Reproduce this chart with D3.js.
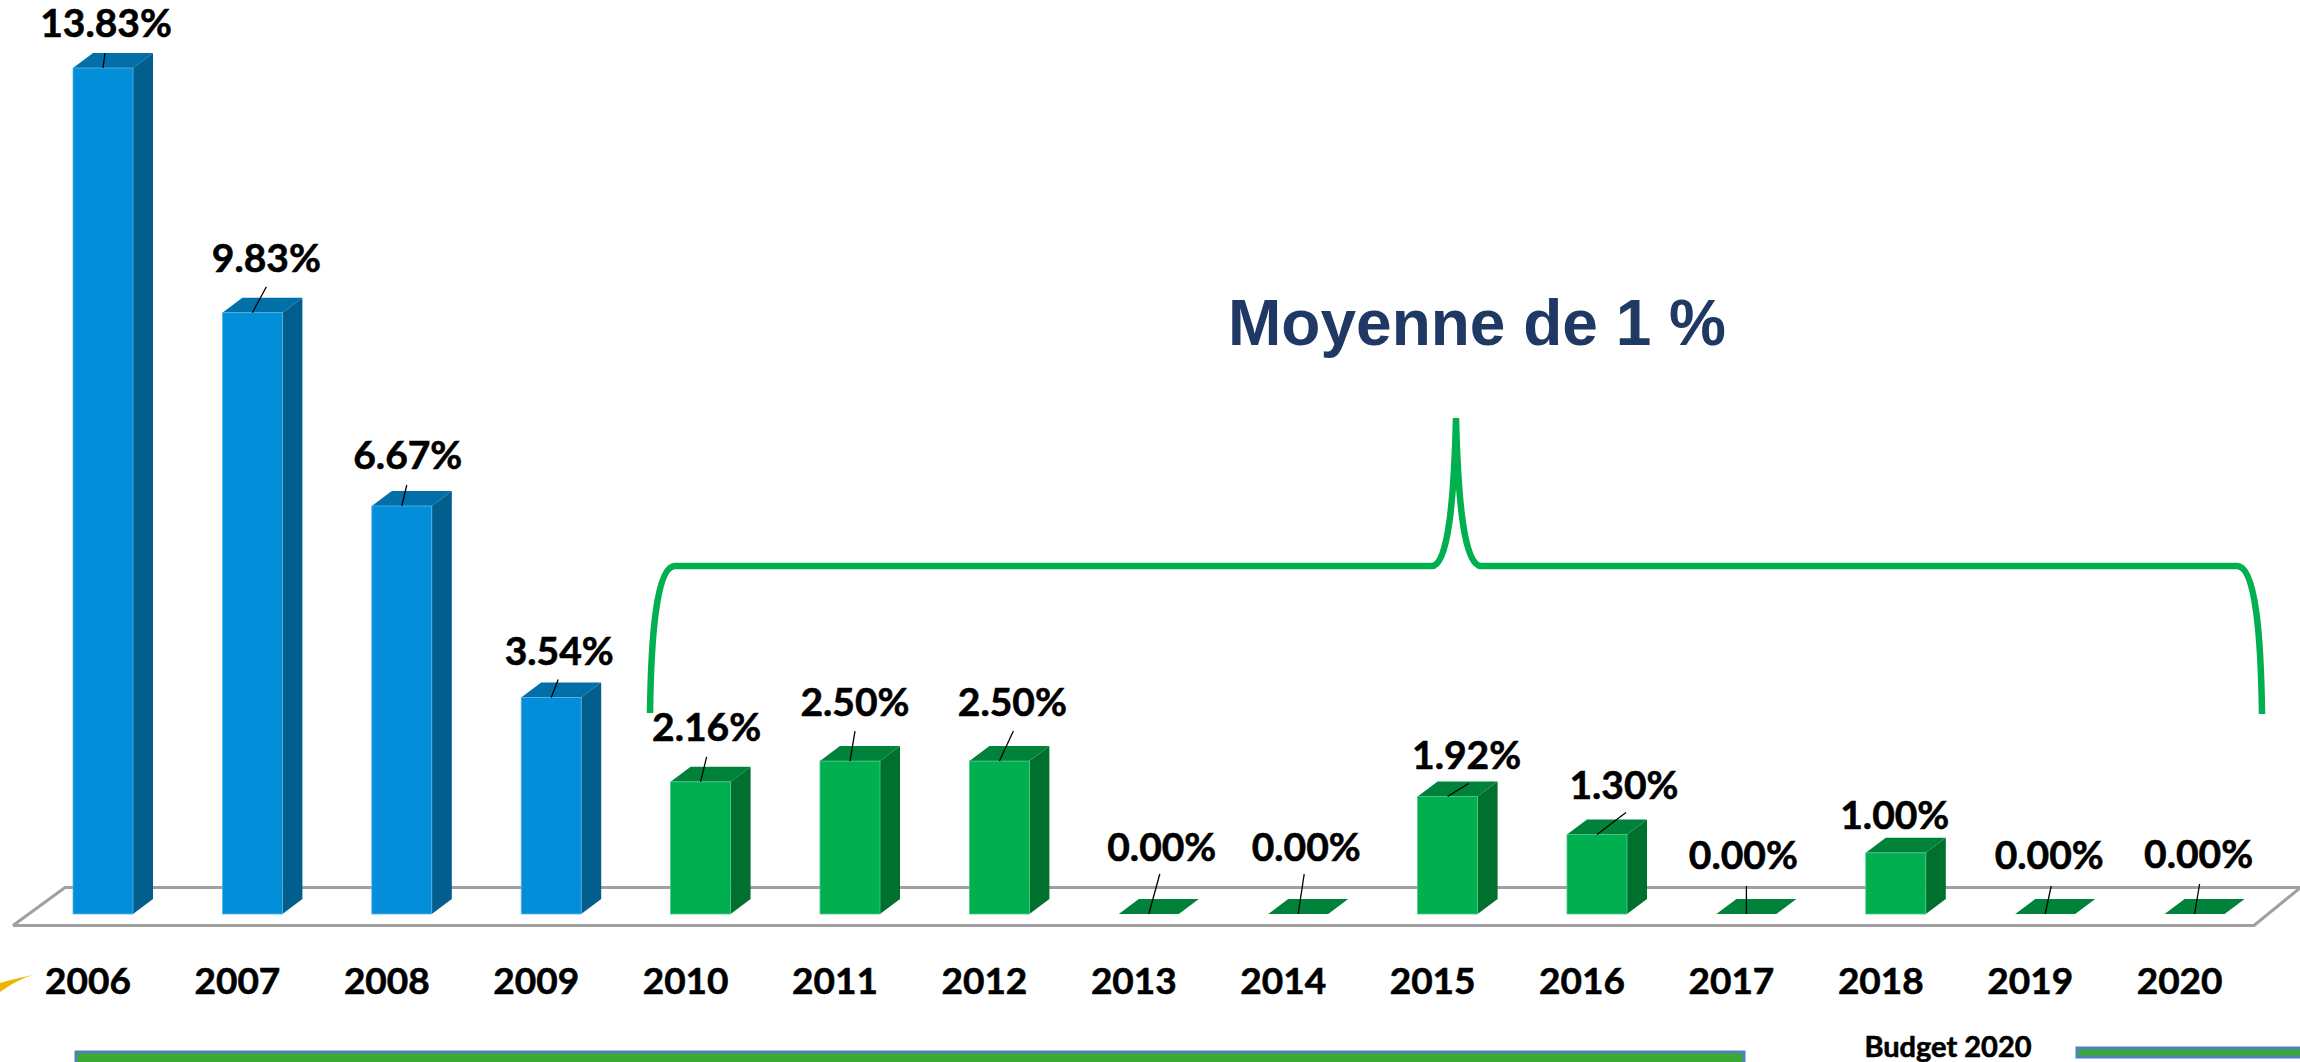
<!DOCTYPE html>
<html>
<head>
<meta charset="utf-8">
<script src="https://cdn.jsdelivr.net/npm/d3@7"></script>
<style>
  html, body { margin: 0; padding: 0; background: #fff; overflow: hidden; }
  svg { display: block; }
  .val, .tick text, .budget { font-family: Lato, sans-serif; font-weight: 700; fill: #000; stroke: #000; stroke-width: 0.6; }
</style>
</head>
<body>
<script>
// values
const years = ["2006", "2007", "2008", "2009", "2010", "2011", "2012", "2013", "2014", "2015", "2016", "2017", "2018", "2019", "2020"];
const rates = [13.83, 9.83, 6.67, 3.54, 2.16, 2.50, 2.50, 0, 0, 1.92, 1.30, 0, 1.00, 0, 0];
const lastBlueYear = "2009";

// hand placed data labels, relative to the middle of the bar's top edge
const labelDx = [3, 14, 6, 8, 6, 5, 13, 13, 8, 19, 27, -3, -1, 4, 4];
const labelDy = [-31, -41, -37, -32, -41, -45, -45, -53, -53, -28, -35, -45, -24, -45, -46];
const leaderDx = [2, 14, 5, 7, 6, 5, 14, 11, 6, 21, 29, 0, 0, 6, 5];
const leaderDy = [-15, -26, -21, -18, -25, -30, -30, -40, -40, -13, -22, -28, 0, -28, -30];

const width = 2300, height = 1062;
const baseY = 914, depthX = 20, depthY = 15;

const svg = d3.select("body").append("svg")
  .attr("width", width)
  .attr("height", height);

const x = d3.scaleBand()
  .domain(years)
  .range([73, 73 + 14 * 149.4 + 60])
  .paddingInner(1 - 60 / 149.4)
  .paddingOuter(0);

const y = d3.scaleLinear()
  .domain([0, 13.83])
  .range([baseY, 68]);

const colors = {
  blue: { front: "#038ed9", top: "#026fa8", side: "#025e8c", edge: "#5db5e6" },
  green: { front: "#00b050", top: "#00823b", side: "#00702f", edge: "#4cc884" }
};

// floor of the 3d plot
svg.append("path")
  .attr("d", "M13,925.5 L65,887.5 L2300,887.5 M2300,888 L2254,925.5 L13,925.5")
  .attr("fill", "none")
  .attr("stroke", "#a0a0a0")
  .attr("stroke-width", 3);

const data = years.map((year, i) => ({ year, rate: rates[i], i, palette: i <= years.indexOf(lastBlueYear) ? colors.blue : colors.green }));

const bars = svg.selectAll(".bar")
  .data(data)
  .enter().append("g")
  .attr("class", "bar");

bars.filter(d => d.rate > 0).append("path")
  .attr("fill", d => d.palette.side)
  .attr("d", d => {
    const r = x(d.year) + x.bandwidth(), t = y(d.rate);
    return `M${r},${t} L${r + depthX},${t - depthY} L${r + depthX},${baseY - depthY} L${r},${baseY} Z`;
  });

bars.append("path")
  .attr("fill", d => d.palette.top)
  .attr("d", d => {
    const l = x(d.year), r = l + x.bandwidth(), t = y(d.rate);
    return `M${l},${t} L${l + depthX},${t - depthY} L${r + depthX},${t - depthY} L${r},${t} Z`;
  });

bars.filter(d => d.rate > 0).append("rect")
  .attr("x", d => x(d.year))
  .attr("y", d => y(d.rate))
  .attr("width", x.bandwidth())
  .attr("height", d => baseY - y(d.rate))
  .attr("fill", d => d.palette.front)
  .attr("stroke", d => d.palette.edge)
  .attr("stroke-width", 0.8);

// leader lines from bar to label
svg.selectAll(".leader")
  .data(data.filter(d => leaderDy[d.i] !== 0))
  .enter().append("line")
  .attr("class", "leader")
  .attr("x1", d => x(d.year) + x.bandwidth() / 2)
  .attr("y1", d => y(d.rate))
  .attr("x2", d => x(d.year) + x.bandwidth() / 2 + leaderDx[d.i])
  .attr("y2", d => y(d.rate) + leaderDy[d.i])
  .attr("stroke", "#000")
  .attr("stroke-width", 1.3);

svg.selectAll(".val")
  .data(data)
  .enter().append("text")
  .attr("class", "val")
  .attr("x", d => x(d.year) + x.bandwidth() / 2 + labelDx[d.i])
  .attr("y", d => y(d.rate) + labelDy[d.i])
  .attr("text-anchor", "middle")
  .attr("font-size", 39)
  .text(d => d.rate.toFixed(2) + "%");

// year axis
const axis = svg.append("g")
  .attr("transform", "translate(-15,994)")
  .call(d3.axisBottom(x).tickSize(0));
axis.select(".domain").remove();
axis.selectAll("text")
  .attr("y", 0)
  .attr("dy", 0)
  .attr("font-size", 37);

// bracket over 2010-2020
svg.append("path")
  .attr("d", "M650,713 C651,640 656,566 675,566 L1432,566 C1448,566 1454,500 1456,418 C1458,500 1464,566 1481,566 L2237,566 C2256,566 2261,640 2262,714")
  .attr("fill", "none")
  .attr("stroke", "#00b050")
  .attr("stroke-width", 6.5);

svg.append("text")
  .attr("x", 1477)
  .attr("y", 345)
  .attr("text-anchor", "middle")
  .attr("font-family", "'Liberation Sans', Arial, sans-serif")
  .attr("font-weight", 700)
  .attr("font-size", 64)
  .attr("fill", "#1f3864")
  .text("Moyenne de 1 %");

// scraps of the slide that fall inside the crop
svg.append("path")
  .attr("d", "M0,992 C10,985 20,979 33,975 C22,977 10,980 0,983 Z")
  .attr("fill", "#f0b400");

svg.append("rect")
  .attr("x", 76).attr("y", 1052).attr("width", 1668).attr("height", 14)
  .attr("fill", "#3aaa35").attr("stroke", "#4f81bd").attr("stroke-width", 3);

svg.append("rect")
  .attr("x", 2077).attr("y", 1048).attr("width", 240).attr("height", 9)
  .attr("fill", "#3aaa35").attr("stroke", "#4f81bd").attr("stroke-width", 3);

svg.append("text")
  .attr("class", "budget")
  .attr("x", 1948)
  .attr("y", 1057)
  .attr("text-anchor", "middle")
  .attr("font-size", 29)
  .text("Budget 2020");
</script>
</body>
</html>
